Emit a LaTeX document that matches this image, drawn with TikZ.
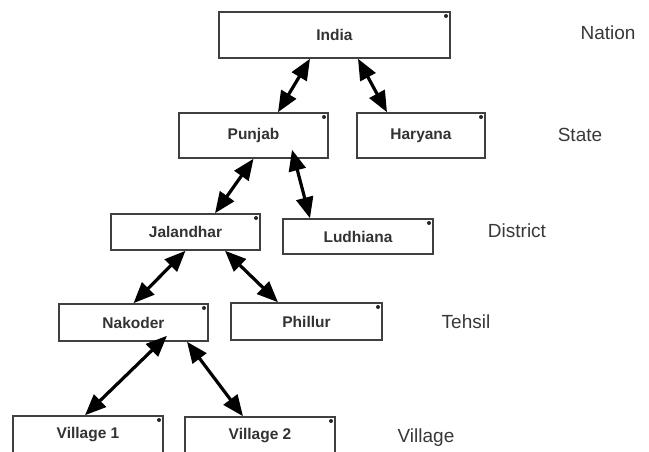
\documentclass[tikz,border=0pt]{standalone}
\usepackage{fontspec}
\setmainfont{Liberation Sans}
\usetikzlibrary{arrows.meta}
\begin{document}
\begin{tikzpicture}[x=1pt,y=-1pt,
  box/.style={draw=black!75,line width=1.5pt,fill=white,rectangle,inner sep=0pt,
    font=\fontsize{15.5}{17}\selectfont\bfseries,text=black!80,
    path picture={\fill[black!85] ([xshift=-4pt,yshift=-4pt]path picture bounding box.north east) circle (2pt);}},
  level/.style={font=\fontsize{19}{21}\selectfont,text=black!78,inner sep=0pt},
  link/.style={line width=3.2pt,{Triangle[length=21pt,width=17pt]}-{Triangle[length=21pt,width=17pt]}}
]
\useasboundingbox (0,0) rectangle (649,452);
\node[box,minimum width=231pt,minimum height=46pt] (india) at (334.5,35) {India};
\node[box,minimum width=149pt,minimum height=45pt] (punjab) at (253.5,135.5) {Punjab};
\node[box,minimum width=128pt,minimum height=45pt] (haryana) at (421,135.5) {Haryana};
\node[box,minimum width=149pt,minimum height=36pt] (jalandhar) at (185.5,232) {Jalandhar};
\node[box,minimum width=150pt,minimum height=35pt] (ludhiana) at (358,236.5) {Ludhiana};
\node[box,minimum width=149pt,minimum height=37pt] (nakoder) at (133.5,322.5) {Nakoder};
\node[box,minimum width=151pt,minimum height=37pt] (phillur) at (306.5,321.5) {Phillur};
\node[box,minimum width=150pt,minimum height=38pt] (village1) at (88,435) {Village 1};
\node[box,minimum width=150pt,minimum height=38pt] (village2) at (260,436) {Village 2};

\node[level] (nation) at (608,33) {Nation};
\node[level] (state) at (580,135) {State};
\node[level] (district) at (517,231) {District};
\node[level] (tehsil) at (466,322) {Tehsil};
\node[level] (village) at (426,438) {Village};

\draw[link] ([xshift=-24.5pt]india.south) -- ([xshift=24.5pt]punjab.north);
\draw[link] ([xshift=23.5pt]india.south) -- ([xshift=-34pt]haryana.north);
\draw[link] ([xshift=0pt]punjab.south) -- ([xshift=29.5pt]jalandhar.north);
\draw[link] ([xshift=38.5pt,yshift=9pt]punjab.south) -- ([xshift=-48pt]ludhiana.north);
\draw[link] (jalandhar.south) -- (nakoder.north);
\draw[link] ([xshift=39.5pt]jalandhar.south) -- ([xshift=-28.5pt]phillur.north);
\draw[link] ([xshift=33.5pt,yshift=6pt]nakoder.south) -- ([xshift=-3pt]village1.north);
\draw[link] ([xshift=53.5pt]nakoder.south) -- ([xshift=-17pt]village2.north);
\end{tikzpicture}
\end{document}
